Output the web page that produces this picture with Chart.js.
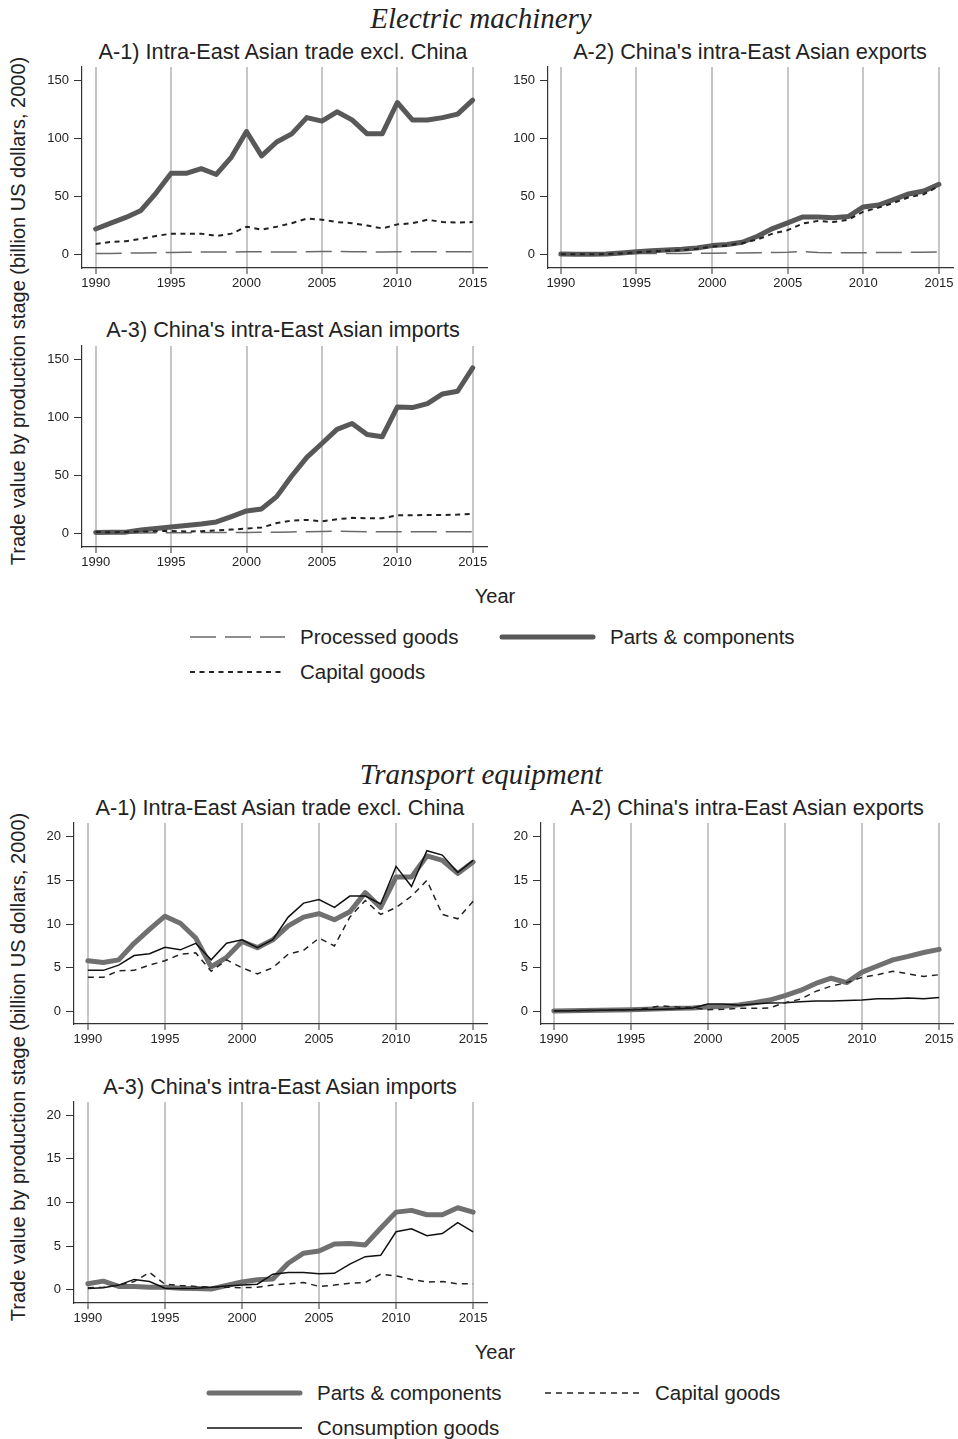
<!DOCTYPE html>
<html>
<head>
<meta charset="utf-8">
<script src="https://cdn.jsdelivr.net/npm/chart.js@4.4.1/dist/chart.umd.min.js"></script>
<style>
  body { margin: 0; background: #fff; width: 958px; height: 1439px; position: relative; overflow: hidden; font-family: "Liberation Sans", Arial, sans-serif; color: #222; }
  canvas { position: absolute; }
  .txt { position: absolute; white-space: nowrap; line-height: 1; transform: translate(-50%, -50%); }
  .main { font-family: "Liberation Serif", serif; font-style: italic; font-size: 29px; }
  .sub { font-size: 21.7px; }
  .lab { font-size: 20px; }
  .ytitle { font-size: 20px; transform: translate(-50%, -50%) rotate(-90deg); }
  .leg { position: absolute; font-size: 20.5px; line-height: 1; transform: translateY(-50%); white-space: nowrap; }
  svg { position: absolute; overflow: visible; }
</style>
</head>
<body>

<div class="txt main" style="left:481px; top:18px;">Electric machinery</div>
<div class="txt sub" style="left:283px; top:52px;">A-1) Intra-East Asian trade excl. China</div>
<div class="txt sub" style="left:750px; top:52px;">A-2) China's intra-East Asian exports</div>
<div class="txt sub" style="left:283px; top:330px;">A-3) China's intra-East Asian imports</div>
<div class="txt ytitle" style="left:18px; top:311px;">Trade value by production stage (billion US dollars, 2000)</div>
<div class="txt lab" style="left:495px; top:596px;">Year</div>

<svg style="left:190px; top:637px;" width="95" height="2"><line x1="0" y1="0" x2="95" y2="0" stroke="#6a6a6a" stroke-width="1.5" stroke-dasharray="26,9"/></svg>
<div class="leg" style="left:300px; top:637px;">Processed goods</div>
<svg style="left:500px; top:637px;" width="95" height="2"><line x1="2" y1="0" x2="93" y2="0" stroke="#585858" stroke-width="5" stroke-linecap="round"/></svg>
<div class="leg" style="left:610px; top:637px;">Parts &amp; components</div>
<svg style="left:190px; top:672px;" width="95" height="2"><line x1="0" y1="0" x2="95" y2="0" stroke="#222" stroke-width="2" stroke-dasharray="5,4.5"/></svg>
<div class="leg" style="left:300px; top:672px;">Capital goods</div>

<div class="txt main" style="left:481px; top:774px;">Transport equipment</div>
<div class="txt sub" style="left:280px; top:808px;">A-1) Intra-East Asian trade excl. China</div>
<div class="txt sub" style="left:747px; top:808px;">A-2) China's intra-East Asian exports</div>
<div class="txt sub" style="left:280px; top:1087px;">A-3) China's intra-East Asian imports</div>
<div class="txt ytitle" style="left:18px; top:1067px;">Trade value by production stage (billion US dollars, 2000)</div>
<div class="txt lab" style="left:495px; top:1352px;">Year</div>

<svg style="left:207px; top:1393px;" width="95" height="2"><line x1="2" y1="0" x2="93" y2="0" stroke="#707070" stroke-width="5" stroke-linecap="round"/></svg>
<div class="leg" style="left:317px; top:1393px;">Parts &amp; components</div>
<svg style="left:545px; top:1393px;" width="95" height="2"><line x1="0" y1="0" x2="95" y2="0" stroke="#222" stroke-width="1.5" stroke-dasharray="6,5"/></svg>
<div class="leg" style="left:655px; top:1393px;">Capital goods</div>
<svg style="left:207px; top:1428px;" width="95" height="2"><line x1="0" y1="0" x2="95" y2="0" stroke="#111" stroke-width="1.5"/></svg>
<div class="leg" style="left:317px; top:1428px;">Consumption goods</div>

<canvas id="emA1"></canvas>
<canvas id="emA2"></canvas>
<canvas id="emA3"></canvas>
<canvas id="teA1"></canvas>
<canvas id="teA2"></canvas>
<canvas id="teA3"></canvas>

<script>
// years on the x axis
const years = [1990,1991,1992,1993,1994,1995,1996,1997,1998,1999,2000,2001,2002,2003,2004,2005,2006,2007,2008,2009,2010,2011,2012,2013,2014,2015];
const xTicks = [1990, 1995, 2000, 2005, 2010, 2015];
const emYTicks = [0, 50, 100, 150];
const teYTicks = [0, 5, 10, 15, 20];

// Electric machinery
const emA1Parts = [22,27,32,38,53,70,70,74,69,84,106,85,97,104,118,115,123,116,104,104,131,116,116,118,121,133];
const emA1Capital = [9,11,11.5,13.5,16,18,18,18,16,18,24,21.5,24,27,31,30,28,27,25,22.5,26,27,30,28,27.5,28];
const emA1Processed = [0.8,1,1.2,1.4,1.6,1.8,2,2.1,2.1,2.2,2.4,2.3,2.2,2.2,2.4,2.6,2.6,2.5,2.4,2.2,2.3,2.4,2.4,2.4,2.5,2.5];

const emA2Parts = [0.5,0.3,0.3,0.5,1.4,2.3,3.2,4,4.6,5.7,7.7,8.6,10.6,15.8,22.4,27.3,32.4,32.4,31.8,32.7,41,42.7,47.3,52.2,54.8,60.5];
const emA2Capital = [0.3,0.2,0.2,0.4,1.0,1.8,2.6,3.3,3.8,4.9,6.8,7.8,9.8,13,18,21,26.7,29,28,30,37,40.4,44.5,49.3,52,59];
const emA2Processed = [0.3,0.3,0.4,0.5,0.6,0.8,0.9,1.0,1.0,1.1,1.2,1.3,1.4,1.5,1.7,2.0,2.6,1.8,1.6,1.5,1.6,1.7,1.8,1.9,2.0,2.1];

const emA3Parts = [1,1.2,1.2,3,4.3,5.7,6.9,8.3,10,14.6,19.5,21.2,31.8,49.6,65.6,77.6,89.7,94.8,85.4,83.4,109,108.5,112,120.3,122.6,142.7];
const emA3Capital = [1.4,1.1,1.4,1.7,2,2.3,1.7,2,2.6,3.4,4.3,5.2,9,11.2,11.7,10.6,12.3,13.5,13.2,13.2,15.8,15.8,16,16,16.3,16.9];
const emA3Processed = [0.4,0.4,0.5,0.5,0.6,0.7,0.7,0.8,0.8,0.9,1.0,1.1,1.2,1.4,1.6,1.8,2.0,1.8,1.6,1.5,1.5,1.5,1.5,1.5,1.5,1.5];

// Transport equipment
const teA1Parts = [5.8,5.6,5.9,7.8,9.4,10.9,10.1,8.4,5.1,6.2,8.0,7.3,8.2,9.8,10.8,11.2,10.5,11.4,13.6,11.9,15.4,15.4,17.8,17.3,15.8,17.1];
const teA1Consumption = [4.7,4.7,5.3,6.4,6.6,7.35,7.05,7.8,5.9,7.8,8.2,7.3,8.2,10.8,12.4,12.8,11.9,13.2,13.2,12.3,16.6,14.3,18.4,17.9,15.9,17.3];
const teA1Capital = [3.9,3.9,4.65,4.7,5.3,5.8,6.55,6.7,4.6,5.9,5.0,4.3,5.0,6.55,7.0,8.4,7.5,10.8,12.7,11.1,11.9,13.2,15.0,11.1,10.6,12.6];

const teA2Parts = [0.05,0.08,0.1,0.12,0.15,0.2,0.25,0.3,0.35,0.4,0.5,0.6,0.75,1.0,1.3,1.8,2.4,3.2,3.8,3.3,4.5,5.2,5.9,6.3,6.75,7.1];
const teA2Capital = [0.05,0.08,0.1,0.12,0.15,0.2,0.35,0.65,0.5,0.45,0.2,0.25,0.35,0.35,0.4,1.0,1.4,2.3,2.9,3.3,3.9,4.2,4.6,4.3,4.0,4.2];
const teA2Consumption = [0.05,0.07,0.1,0.12,0.15,0.2,0.22,0.25,0.3,0.4,0.85,0.85,0.7,0.85,0.95,1.0,1.1,1.2,1.2,1.25,1.3,1.45,1.45,1.55,1.45,1.6];

const teA3Parts = [0.7,1.0,0.4,0.4,0.3,0.3,0.2,0.15,0.1,0.5,0.9,1.15,1.25,3.05,4.2,4.45,5.25,5.3,5.15,7.05,8.9,9.1,8.6,8.6,9.4,8.9];
const teA3Consumption = [0.15,0.25,0.55,1.2,0.95,0.2,0.15,0.2,0.3,0.45,0.55,0.65,1.8,2.0,2.0,1.85,1.9,2.95,3.8,3.95,6.65,7.0,6.2,6.45,7.7,6.65];
const teA3Capital = [0.25,0.3,0.55,0.95,2.0,0.65,0.5,0.4,0.3,0.3,0.25,0.3,0.55,0.7,0.85,0.4,0.55,0.75,0.85,1.8,1.6,1.2,0.9,0.95,0.7,0.7];

const Y_W = 50;   // room for y tick labels
const X_H = 30;   // room for x tick labels
const PAD = 4;

function pts(arr) {
    return years.map((y, i) => ({ x: y, y: arr[i] }));
}

// line styles
function parts(arr, color) {
    return { data: pts(arr), borderColor: color, borderWidth: 5, order: 2, borderJoinStyle: 'round', borderCapStyle: 'round' };
}
function capitalDotted(arr) {
    return { data: pts(arr), borderColor: '#222', borderWidth: 2, borderDash: [5, 4.5], order: 0 };
}
function capitalDashed(arr) {
    return { data: pts(arr), borderColor: '#222', borderWidth: 1.5, borderDash: [6, 5], order: 0 };
}
function processed(arr) {
    return { data: pts(arr), borderColor: '#6a6a6a', borderWidth: 1.5, borderDash: [26, 9], order: 3 };
}
function consumption(arr) {
    return { data: pts(arr), borderColor: '#111', borderWidth: 1.5, order: 1 };
}

function makePanel(id, area, yMin, yMax, yTicks, xMin, xMax, datasets) {
    const cv = document.getElementById(id);
    const w = (area.r - area.l) + Y_W + PAD;
    const h = (area.b - area.t) + PAD + X_H;
    cv.width = w;
    cv.height = h;
    cv.style.left = (area.l - Y_W) + 'px';
    cv.style.top = (area.t - PAD) + 'px';
    cv.style.width = w + 'px';
    cv.style.height = h + 'px';

    datasets.forEach(d => { d.pointRadius = 0; d.tension = 0; d.fill = false; });

    new Chart(cv.getContext('2d'), {
        type: 'line',
        data: { datasets: datasets },
        options: {
            responsive: false,
            animation: false,
            devicePixelRatio: 1,
            layout: { padding: { top: PAD, right: PAD, left: 0, bottom: 0 } },
            plugins: { legend: { display: false }, tooltip: { enabled: false } },
            scales: {
                x: {
                    type: 'linear',
                    min: xMin,
                    max: xMax,
                    afterBuildTicks: s => { s.ticks = xTicks.map(v => ({ value: v })); },
                    afterFit: s => { s.height = X_H; s.paddingLeft = 0; s.paddingRight = 0; },
                    grid: { color: '#c6c6c6', lineWidth: 2, tickColor: '#333', tickLength: 6, tickWidth: 1 },
                    border: { display: true, color: '#333', width: 1.2 },
                    ticks: { color: '#222', font: { family: 'Liberation Sans', size: 13 }, padding: 2, maxRotation: 0, autoSkip: false, callback: v => String(v) }
                },
                y: {
                    min: yMin,
                    max: yMax,
                    afterBuildTicks: s => { s.ticks = yTicks.map(v => ({ value: v })); },
                    afterFit: s => { s.width = Y_W; s.paddingTop = 0; s.paddingBottom = 0; },
                    grid: { drawOnChartArea: false, tickColor: '#333', tickLength: 8, tickWidth: 1 },
                    border: { display: true, color: '#333', width: 1.2 },
                    ticks: { color: '#222', font: { family: 'Liberation Sans', size: 13 }, padding: 5, callback: v => String(v) }
                }
            }
        }
    });
}

const emParts = '#585858';
const teParts = '#707070';

makePanel('emA1', { l: 82, t: 67, r: 487, b: 268 }, -11.6, 161.6, emYTicks, 1989.09, 2015.95,
    [parts(emA1Parts, emParts), capitalDotted(emA1Capital), processed(emA1Processed)]);
makePanel('emA2', { l: 548, t: 67, r: 953, b: 268 }, -11.6, 161.6, emYTicks, 1989.15, 2015.93,
    [parts(emA2Parts, emParts), capitalDotted(emA2Capital), processed(emA2Processed)]);
makePanel('emA3', { l: 82, t: 346, r: 487, b: 547 }, -11.6, 161.6, emYTicks, 1989.09, 2015.95,
    [parts(emA3Parts, emParts), capitalDotted(emA3Capital), processed(emA3Processed)]);

makePanel('teA1', { l: 74, t: 823, r: 487, b: 1024 }, -1.44, 21.57, teYTicks, 1989.1, 2015.9,
    [parts(teA1Parts, teParts), consumption(teA1Consumption), capitalDashed(teA1Capital)]);
makePanel('teA2', { l: 541, t: 823, r: 953, b: 1024 }, -1.44, 21.57, teYTicks, 1989.17, 2015.9,
    [parts(teA2Parts, teParts), consumption(teA2Consumption), capitalDashed(teA2Capital)]);
makePanel('teA3', { l: 74, t: 1102, r: 487, b: 1303 }, -1.5, 21.5, teYTicks, 1989.1, 2015.9,
    [parts(teA3Parts, teParts), consumption(teA3Consumption), capitalDashed(teA3Capital)]);
</script>
</body>
</html>
